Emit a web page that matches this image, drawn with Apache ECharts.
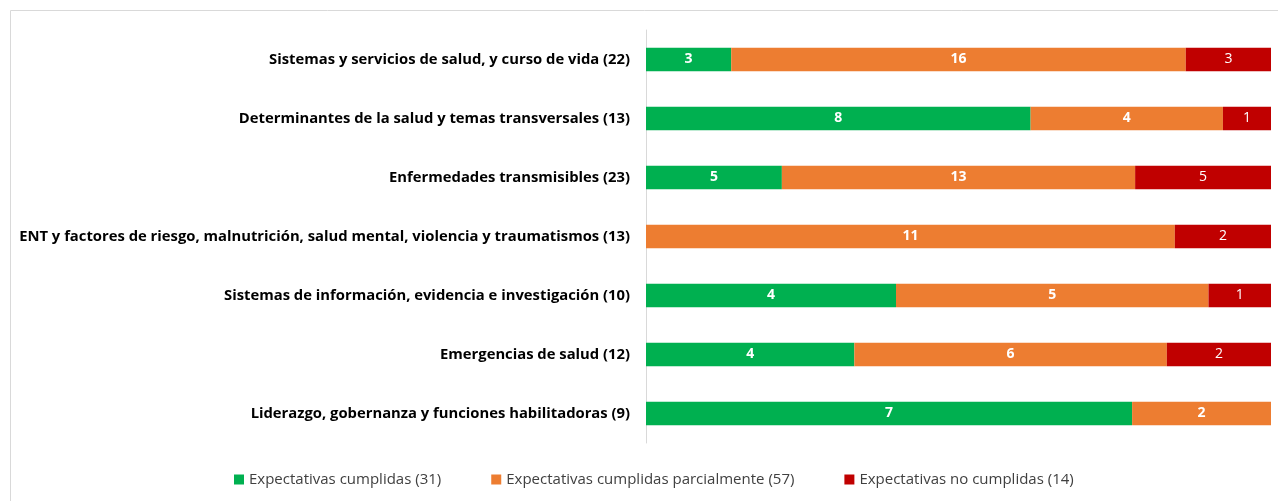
<!DOCTYPE html>
<html>
<head>
<meta charset="utf-8">
<script src="https://cdn.jsdelivr.net/npm/echarts@6/dist/echarts.min.js"></script>
<style>
  html, body { margin: 0; padding: 0; background: #fff; }
  #chart { width: 1278px; height: 501px; }
</style>
</head>
<body>
<div id="chart"></div>
<script>
// categorías (de arriba hacia abajo)
var categories = [
    'Sistemas y servicios de salud, y curso de vida (22)',
    'Determinantes de la salud y temas transversales (13)',
    'Enfermedades transmisibles (23)',
    'ENT y factores de riesgo, malnutrición, salud mental, violencia y traumatismos (13)',
    'Sistemas de información, evidencia e investigación (10)',
    'Emergencias de salud (12)',
    'Liderazgo, gobernanza y funciones habilitadoras (9)'
];
var seriesNames = [
    'Expectativas cumplidas (31)',
    'Expectativas cumplidas parcialmente (57)',
    'Expectativas no cumplidas (14)'
];
var cumplidas = [3, 8, 5, 0, 4, 4, 7];
var parciales = [16, 4, 13, 11, 5, 6, 2];
var noCumplidas = [3, 1, 5, 2, 1, 2, 0];
var colors = ['#00B050', '#ED7D31', '#C00000'];

var totals = categories.map(function (c, i) {
    return cumplidas[i] + parciales[i] + noCumplidas[i];
});

function toPct(arr) {
    return arr.map(function (v, i) {
        return { value: v / totals[i] * 100, raw: v };
    });
}

var chart = echarts.init(document.getElementById('chart'));
var raws = [cumplidas, parciales, noCumplidas];

chart.setOption({
    animation: false,
    textStyle: { fontFamily: 'Open Sans' },
    graphic: [{
        type: 'rect',
        shape: { x: 10.5, y: 10.5, width: 1400, height: 600 },
        style: { fill: 'none', stroke: '#d9d9d9', lineWidth: 1 }
    }],
    grid: {
        left: 646,
        right: 7,
        top: 30,
        bottom: 58
    },
    legend: {
        bottom: 9,
        left: 229,
        itemWidth: 10,
        itemHeight: 10,
        itemGap: 50,
        itemStyle: { borderWidth: 0 },
        icon: 'rect',
        textStyle: { fontSize: 15, color: '#404040', fontFamily: 'Open Sans' },
        data: seriesNames
    },
    xAxis: {
        type: 'value',
        min: 0,
        max: 100,
        show: false
    },
    yAxis: {
        type: 'category',
        inverse: true,
        data: categories,
        axisLine: { show: true, lineStyle: { color: '#d9d9d9' } },
        axisTick: { show: false },
        axisLabel: {
            color: '#000',
            fontWeight: 'bold',
            fontSize: 14.8,
            margin: 16,
            fontFamily: 'Open Sans'
        }
    },
    series: raws.map(function (arr, k) {
        return {
            name: seriesNames[k],
            type: 'bar',
            stack: 'total',
            barCategoryGap: '60%',
            itemStyle: { color: colors[k] },
            label: {
                show: true,
                color: '#fff',
                fontSize: 14,
                fontWeight: k === 2 ? 'normal' : 'bold',
                fontFamily: 'Open Sans',
                formatter: function (p) {
                    return p.data.raw > 0 ? p.data.raw : '';
                }
            },
            data: toPct(arr)
        };
    })
});
</script>
</body>
</html>
